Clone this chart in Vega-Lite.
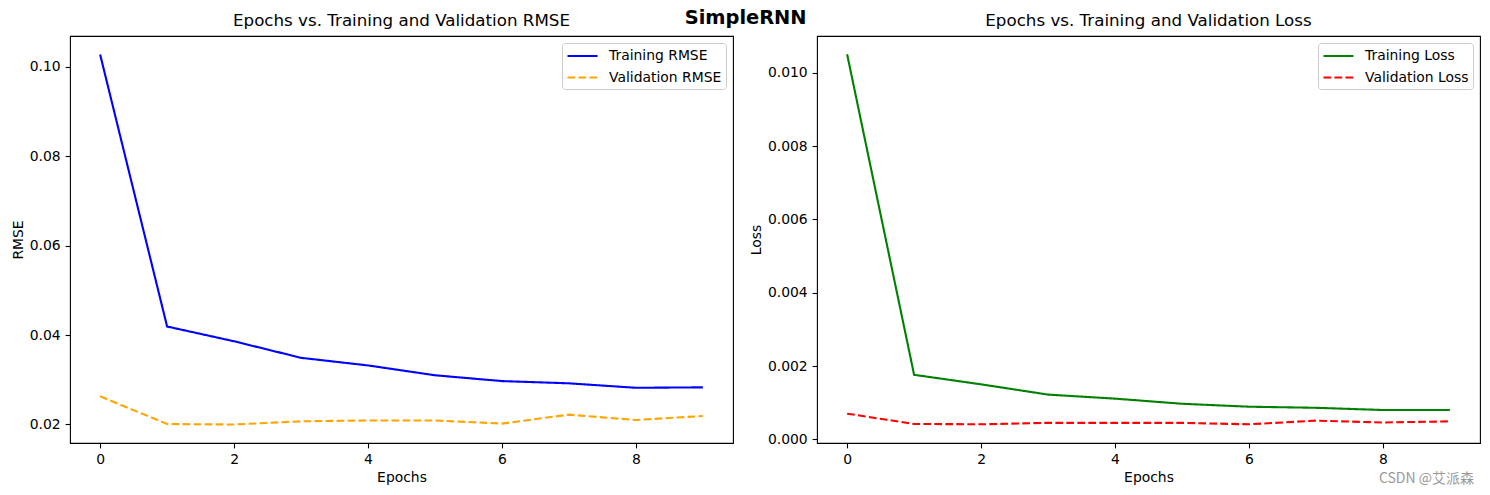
{
  "$schema": "https://vega.github.io/schema/vega-lite/v6.json",
  "background": "white",
  "padding": {"left": 10, "top": 8, "right": 10, "bottom": 5},
  "title": {"text": "SimpleRNN", "fontSize": 19.4, "fontWeight": "bold", "font": "DejaVu Sans", "anchor": "middle", "offset": -16, "color": "black"},
  "bounds": "flush",
  "spacing": 84,
  "resolve": {"scale": {"color": "independent", "strokeDash": "independent", "x": "independent", "y": "independent"}, "legend": {"color": "independent", "strokeDash": "independent"}},
  "config": {
    "font": "DejaVu Sans",
    "view": {"stroke": "black", "strokeWidth": 1.1},
    "axis": {"grid": false, "domain": false, "tickColor": "black", "tickSize": 4.9, "tickWidth": 1.1, "labelFontSize": 13.9, "labelColor": "black", "labelPadding": 4.9, "titleFontSize": 13.9, "titleFontWeight": "normal", "titleColor": "black", "labelFont": "DejaVu Sans", "titleFont": "DejaVu Sans"},
    "legend": {"orient": "top-right", "offset": 7, "padding": 4, "strokeColor": "#cccccc", "fillColor": "white", "cornerRadius": 3, "labelFontSize": 13.9, "labelFont": "DejaVu Sans", "labelColor": "black", "symbolType": "M-1,0H3", "symbolSize": 225, "symbolStrokeWidth": 2.1, "rowPadding": 5.5, "labelOffset": 25, "title": null},
    "title": {"fontSize": 16.7, "fontWeight": "normal", "offset": 6, "color": "black", "font": "DejaVu Sans"}
  },
  "datasets": {
    "rmse": [
      {"epoch": 0, "series": "Training RMSE", "value": 0.1027},
      {"epoch": 1, "series": "Training RMSE", "value": 0.0419},
      {"epoch": 2, "series": "Training RMSE", "value": 0.0386},
      {"epoch": 3, "series": "Training RMSE", "value": 0.0349},
      {"epoch": 4, "series": "Training RMSE", "value": 0.0332},
      {"epoch": 5, "series": "Training RMSE", "value": 0.0310},
      {"epoch": 6, "series": "Training RMSE", "value": 0.0297},
      {"epoch": 7, "series": "Training RMSE", "value": 0.0292},
      {"epoch": 8, "series": "Training RMSE", "value": 0.0282},
      {"epoch": 9, "series": "Training RMSE", "value": 0.0283},
      {"epoch": 0, "series": "Validation RMSE", "value": 0.0263},
      {"epoch": 1, "series": "Validation RMSE", "value": 0.0201},
      {"epoch": 2, "series": "Validation RMSE", "value": 0.0200},
      {"epoch": 3, "series": "Validation RMSE", "value": 0.0207},
      {"epoch": 4, "series": "Validation RMSE", "value": 0.0209},
      {"epoch": 5, "series": "Validation RMSE", "value": 0.0209},
      {"epoch": 6, "series": "Validation RMSE", "value": 0.0202},
      {"epoch": 7, "series": "Validation RMSE", "value": 0.0222},
      {"epoch": 8, "series": "Validation RMSE", "value": 0.0210},
      {"epoch": 9, "series": "Validation RMSE", "value": 0.0219}
    ],
    "loss": [
      {"epoch": 0, "series": "Training Loss", "value": 0.01050},
      {"epoch": 1, "series": "Training Loss", "value": 0.00176},
      {"epoch": 2, "series": "Training Loss", "value": 0.00150},
      {"epoch": 3, "series": "Training Loss", "value": 0.00122},
      {"epoch": 4, "series": "Training Loss", "value": 0.00111},
      {"epoch": 5, "series": "Training Loss", "value": 0.00097},
      {"epoch": 6, "series": "Training Loss", "value": 0.00089},
      {"epoch": 7, "series": "Training Loss", "value": 0.00086},
      {"epoch": 8, "series": "Training Loss", "value": 0.00080},
      {"epoch": 9, "series": "Training Loss", "value": 0.00080},
      {"epoch": 0, "series": "Validation Loss", "value": 0.00070},
      {"epoch": 1, "series": "Validation Loss", "value": 0.00042},
      {"epoch": 2, "series": "Validation Loss", "value": 0.00041},
      {"epoch": 3, "series": "Validation Loss", "value": 0.00045},
      {"epoch": 4, "series": "Validation Loss", "value": 0.00045},
      {"epoch": 5, "series": "Validation Loss", "value": 0.00045},
      {"epoch": 6, "series": "Validation Loss", "value": 0.00041},
      {"epoch": 7, "series": "Validation Loss", "value": 0.00051},
      {"epoch": 8, "series": "Validation Loss", "value": 0.00046},
      {"epoch": 9, "series": "Validation Loss", "value": 0.00049}
    ],
    "mark": [{"t": "CSDN @艾派森"}]
  },
  "hconcat": [
    {
      "title": "Epochs vs. Training and Validation RMSE",
      "width": 663,
      "height": 407,
      "data": {"name": "rmse"},
      "mark": {"type": "line", "strokeWidth": 2.1},
      "encoding": {
        "x": {"field": "epoch", "type": "quantitative", "scale": {"domain": [-0.45, 9.45], "nice": false, "zero": false}, "axis": {"values": [0, 2, 4, 6, 8], "title": "Epochs", "format": "d"}},
        "y": {"field": "value", "type": "quantitative", "scale": {"domain": [0.01586, 0.10684], "nice": false, "zero": false}, "axis": {"values": [0.02, 0.04, 0.06, 0.08, 0.10], "format": ".2f", "title": "RMSE"}},
        "color": {"field": "series", "type": "nominal", "scale": {"domain": ["Training RMSE", "Validation RMSE"], "range": ["#0000ff", "#ffa500"]}},
        "strokeDash": {"field": "series", "type": "nominal", "scale": {"domain": ["Training RMSE", "Validation RMSE"], "range": [[1, 0], [7.7, 3.3]]}}
      }
    },
    {
      "title": "Epochs vs. Training and Validation Loss",
      "width": 663,
      "height": 407,
      "layer": [
        {
          "data": {"name": "loss"},
          "mark": {"type": "line", "strokeWidth": 2.1},
          "encoding": {
            "x": {"field": "epoch", "type": "quantitative", "scale": {"domain": [-0.45, 9.45], "nice": false, "zero": false}, "axis": {"values": [0, 2, 4, 6, 8], "title": "Epochs", "format": "d"}},
            "y": {"field": "value", "type": "quantitative", "scale": {"domain": [-0.0001, 0.0110], "nice": false, "zero": false}, "axis": {"values": [0, 0.002, 0.004, 0.006, 0.008, 0.010], "format": ".3f", "title": "Loss"}},
            "color": {"field": "series", "type": "nominal", "scale": {"domain": ["Training Loss", "Validation Loss"], "range": ["#008000", "#ff0000"]}},
            "strokeDash": {"field": "series", "type": "nominal", "scale": {"domain": ["Training Loss", "Validation Loss"], "range": [[1, 0], [7.7, 3.3]]}}
          }
        },
        {
          "data": {"name": "mark"},
          "mark": {"type": "text", "align": "right", "baseline": "middle", "color": "#999999", "fontSize": 14, "font": "Noto Sans CJK SC"},
          "encoding": {
            "x": {"datum": 9.36, "type": "quantitative"},
            "y": {"datum": -0.00109, "type": "quantitative"},
            "text": {"field": "t", "type": "nominal"}
          }
        }
      ]
    }
  ]
}
